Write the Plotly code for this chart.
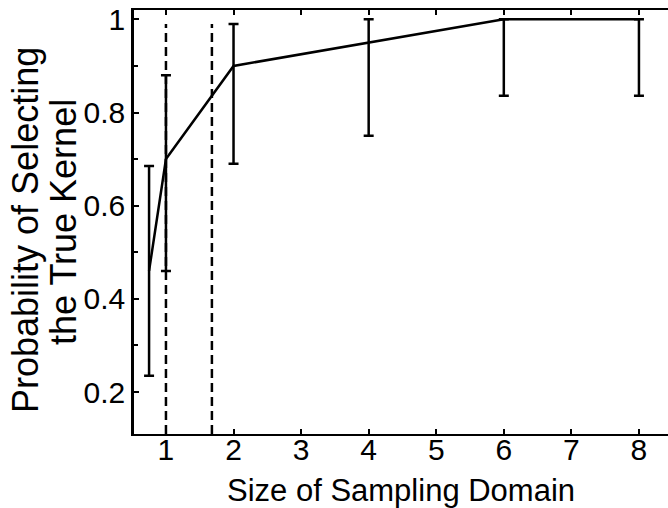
import plotly.graph_objects as go

# Data
domain_size = [0.75, 1, 2, 4, 6, 8]
prob_true = [0.46, 0.70, 0.90, 0.95, 1.0, 1.0]
err_plus = [0.225, 0.18, 0.09, 0.05, 0.0, 0.0]
err_minus = [0.225, 0.24, 0.21, 0.20, 0.164, 0.164]
dashed_x = [1.0, 1.68]
dashed_y_extent = [0.11, 0.99]

x_ticks = [1, 2, 3, 4, 5, 6, 7, 8]
y_ticks = [0.2, 0.4, 0.6, 0.8, 1.0]
y_tick_text = ["0.2", "0.4", "0.6", "0.8", "1"]
y_title_lines = ["Probability of Selecting", "the True Kernel"]
x_title = "Size of Sampling Domain"

FONT = "Liberation Sans, Arial, Helvetica, sans-serif"
FS = 30

fig = go.Figure()

for xv in dashed_x:
    fig.add_trace(go.Scatter(
        x=[xv, xv], y=dashed_y_extent, mode="lines",
        line=dict(color="black", width=2.5, dash="9px,5px"),
        showlegend=False, hoverinfo="skip"))

fig.add_trace(go.Scatter(
    x=domain_size, y=prob_true, mode="lines",
    line=dict(color="black", width=2.5),
    error_y=dict(type="data", symmetric=False, array=err_plus,
                 arrayminus=err_minus, color="black", thickness=2.5, width=5),
    showlegend=False))

annotations = [
    dict(text=x_title, xref="paper", yref="paper",
         x=0.5, y=0, xanchor="center", yanchor="top", yshift=-37,
         showarrow=False, font=dict(family=FONT, size=31)),
]
for txt, xs, ys in zip(y_title_lines, [-109, -71], [-8, 0]):
    annotations.append(dict(
        text=txt, xref="paper", yref="paper", x=0, y=0.5,
        xanchor="center", yanchor="middle", xshift=xs, yshift=ys,
        textangle=-90, showarrow=False, font=dict(family=FONT, size=36)))

fig.update_layout(
    width=668, height=508,
    margin=dict(l=134, r=0, t=10, b=74),
    paper_bgcolor="white", plot_bgcolor="white",
    font=dict(family=FONT, size=FS, color="black"),
    xaxis=dict(range=[0.527, 8.43], tickvals=x_ticks, ticks="inside",
               ticklen=5, tickwidth=1.5, tickcolor="black",
               showline=True, linecolor="black", linewidth=2, mirror="ticks",
               showgrid=False, zeroline=False, ticklabelstandoff=-12,
               tickfont=dict(family=FONT, size=FS)),
    yaxis=dict(range=[0.11, 1.02], tickvals=y_ticks, ticktext=y_tick_text,
               ticks="inside", ticklen=5, tickwidth=1.5, tickcolor="black",
               minor=dict(dtick=0.1, tick0=0, ticks="inside", ticklen=4,
                          tickwidth=1.5, tickcolor="black"),
               showline=True, linecolor="black", linewidth=2.5, mirror=False,
               showgrid=False, zeroline=False,
               tickfont=dict(family=FONT, size=FS)),
    annotations=annotations,
)

fig.write_html("out.html")
